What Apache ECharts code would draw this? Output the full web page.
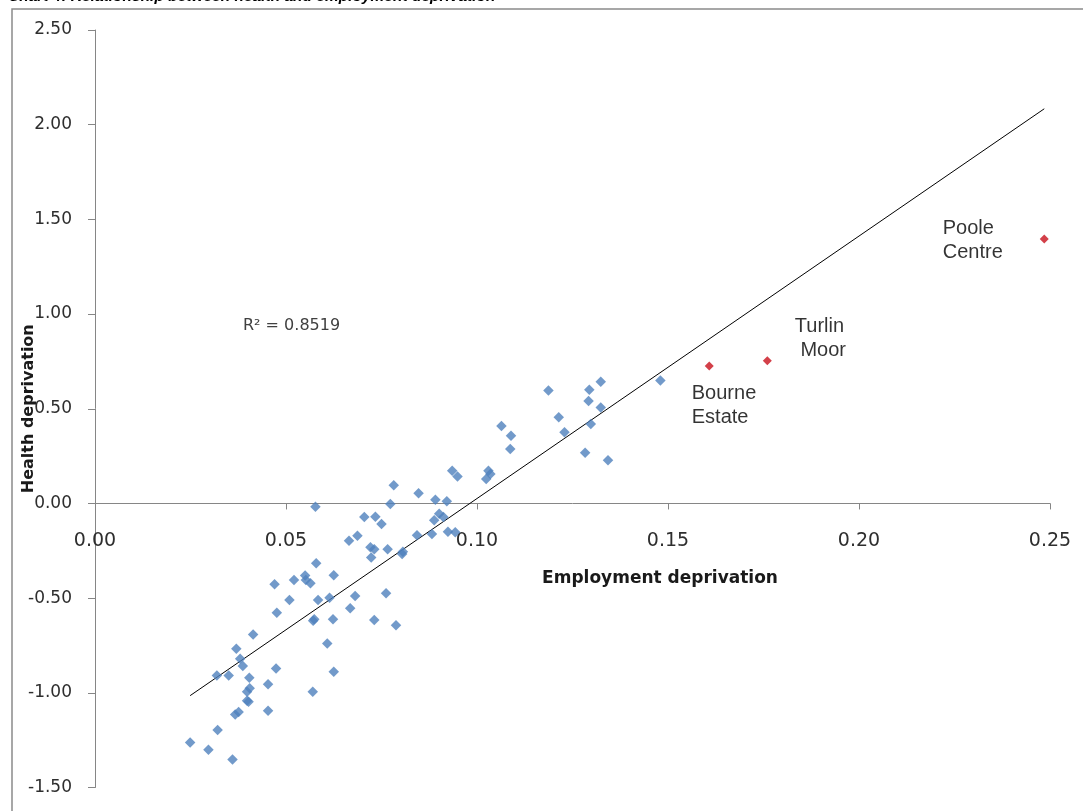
<!DOCTYPE html>
<html><head><meta charset="utf-8">
<script src="https://cdn.jsdelivr.net/npm/echarts/dist/echarts.min.js"></script>
<style>html,body{margin:0;padding:0;background:#fff;}#chart{width:1083px;height:811px;}</style>
</head><body><div id="chart"></div>
<script>
const titleText = "Chart 4: Relationship between health and employment deprivation";
const xAxisTitle = "Employment deprivation";
const yAxisTitle = "Health deprivation";
const r2Text = "R\u00B2 = 0.8519";

const xMin = 0, xMax = 0.25, xStep = 0.05;
const yMin = -1.5, yMax = 2.5, yStep = 0.5;

// Blue points: employment deprivation (x) and health deprivation (y)
const employmentX = [
  0.1480, 0.1324, 0.1294, 0.1187, 0.1292, 0.1324, 0.1214, 0.1298, 0.1229, 0.1064,
  0.1089, 0.1087, 0.1283, 0.1343, 0.1030, 0.1035, 0.1024, 0.0935, 0.0949, 0.0782,
  0.0847, 0.0773, 0.0891, 0.0921, 0.0901, 0.0912, 0.0888, 0.0924, 0.0943, 0.0843,
  0.0882, 0.0766, 0.0806, 0.0804, 0.0577, 0.0705, 0.0734, 0.0750, 0.0665, 0.0687,
  0.0721, 0.0731, 0.0723, 0.0579, 0.0470, 0.0521, 0.0550, 0.0552, 0.0564, 0.0625,
  0.0509, 0.0584, 0.0614, 0.0681, 0.0762, 0.0476, 0.0668, 0.0571, 0.0574, 0.0623,
  0.0731, 0.0788, 0.0414, 0.0608, 0.0370, 0.0380, 0.0387, 0.0474, 0.0625, 0.0319,
  0.0350, 0.0404, 0.0453, 0.0405, 0.0398, 0.0570, 0.0398, 0.0402, 0.0376, 0.0367,
  0.0453, 0.0321, 0.0249, 0.0297, 0.0360
];
const healthY = [
  0.649, 0.642, 0.600, 0.596, 0.541, 0.506, 0.455, 0.420, 0.376, 0.409,
  0.358, 0.288, 0.268, 0.228, 0.172, 0.156, 0.129, 0.173, 0.142, 0.096,
  0.054, -0.003, 0.020, 0.012, -0.055, -0.071, -0.089, -0.149, -0.152, -0.168,
  -0.161, -0.242, -0.255, -0.267, -0.017, -0.071, -0.070, -0.108, -0.197, -0.170,
  -0.231, -0.242, -0.286, -0.316, -0.427, -0.404, -0.381, -0.404, -0.422, -0.379,
  -0.510, -0.510, -0.498, -0.489, -0.474, -0.577, -0.554, -0.619, -0.612, -0.612,
  -0.615, -0.643, -0.692, -0.739, -0.767, -0.820, -0.858, -0.871, -0.889, -0.909,
  -0.909, -0.920, -0.955, -0.976, -0.994, -0.994, -1.042, -1.047, -1.101, -1.114,
  -1.095, -1.197, -1.263, -1.300, -1.352
];

// Highlighted (red) areas
const highlightNames = ["Bourne\nEstate", "Turlin\n Moor", "Poole\nCentre"];
const highlightX = [0.1608, 0.1760, 0.2485];
const highlightY = [0.726, 0.753, 1.397];

// Linear trendline end points
const trendX = [0.0249, 0.2485];
const trendY = [-1.015, 2.084];

// ---- styling / placement (not data) ----
const labelPlacement = [[-13, 20], [32, -42], [-97, -18]];
const axisGrey = '#868686';
const labelGrey = '#2e2e2e';
const gridTop = 30, gridBottom = 23.5;
const plotHeight = 811 - gridTop - gridBottom;

const chart = echarts.init(document.getElementById('chart'), null, {renderer: 'canvas'});

const blueData = employmentX.map((x, i) => [x, healthY[i]]);
const redData = highlightX.map((x, i) => ({
  name: highlightNames[i],
  value: [x, highlightY[i]],
  label: {position: labelPlacement[i]}
}));
const trendData = trendX.map((x, i) => [x, trendY[i]]);

// distance of the y = 0 line above the plot bottom (moves the x axis onto zero)
const zeroOffset = -plotHeight * (0 - yMin) / (yMax - yMin);

chart.setOption({
  animation: false,
  backgroundColor: '#ffffff',
  grid: {left: 95, right: 33, top: gridTop, bottom: gridBottom, containLabel: false,
    outerBoundsMode: 'none'},
  xAxis: {
    type: 'value', min: xMin, max: xMax, interval: xStep,
    offset: zeroOffset,
    axisLine: {show: true, onZero: false, lineStyle: {color: axisGrey, width: 1}},
    axisTick: {show: true, length: 6, lineStyle: {color: axisGrey}},
    axisLabel: {margin: 28, fontSize: 19, fontFamily: 'DejaVu Sans', color: labelGrey,
      formatter: v => v.toFixed(2)},
    splitLine: {show: false}
  },
  yAxis: {
    type: 'value', min: yMin, max: yMax, interval: yStep,
    name: yAxisTitle, nameLocation: 'middle', nameGap: 58, nameRotate: 90,
    nameMoveOverlap: false,
    nameTextStyle: {fontSize: 16, fontWeight: 'bold', fontFamily: 'DejaVu Sans', color: '#1a1a1a'},
    axisLine: {show: true, onZero: false, lineStyle: {color: axisGrey, width: 1}},
    axisTick: {show: true, length: 7, lineStyle: {color: axisGrey}},
    axisLabel: {margin: 23, fontSize: 17, fontFamily: 'DejaVu Sans', color: labelGrey,
      formatter: v => v.toFixed(2)},
    splitLine: {show: false}
  },
  graphic: [
    {type: 'rect', z: -10, silent: true, shape: {x: 12, y: 9, width: 1200, height: 900},
      style: {fill: 'none', stroke: '#8a8a8a', lineWidth: 1.5}},
    {type: 'text', x: 8, y: -3, silent: true,
      style: {text: titleText, font: 'italic bold 15.5px "Liberation Sans"', fill: '#000',
        textAlign: 'left', textVerticalAlign: 'middle'}},
    {type: 'text', x: 660, y: 579, silent: true,
      style: {text: xAxisTitle, font: 'bold 17px "DejaVu Sans"', fill: '#1a1a1a',
        textAlign: 'center', textVerticalAlign: 'middle'}},
    {type: 'text', x: 243, y: 326, silent: true,
      style: {text: r2Text, font: '16px "DejaVu Sans"', fill: '#404040',
        textAlign: 'left', textVerticalAlign: 'middle'}}
  ],
  series: [
    {
      type: 'line', data: trendData, symbol: 'none', silent: true, z: 3,
      lineStyle: {color: '#000', width: 1}
    },
    {
      type: 'scatter', data: blueData, symbol: 'diamond', symbolSize: 10.5, z: 4,
      itemStyle: {color: '#4F81BD'}
    },
    {
      type: 'scatter', data: redData, symbol: 'diamond', symbolSize: 9, z: 5,
      itemStyle: {color: '#C8101C'},
      label: {show: true, formatter: '{b}', fontSize: 20, lineHeight: 24,
        fontFamily: 'Liberation Sans', color: '#000', align: 'left', verticalAlign: 'top'}
    }
  ]
});
</script></body></html>
